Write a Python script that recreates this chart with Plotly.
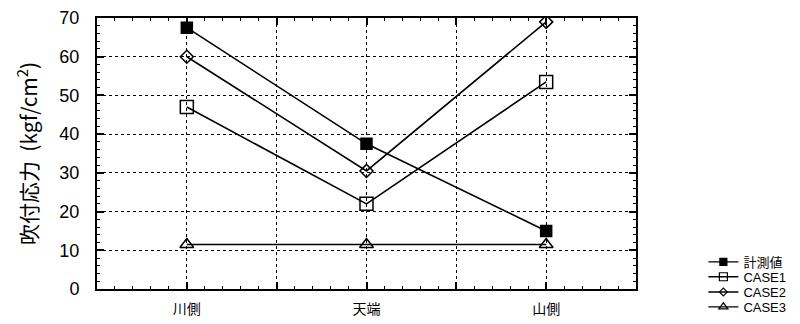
import plotly.graph_objects as go

# Measurement positions and shotcrete stresses (kgf/cm2)
positions = ["川側", "天端", "山側"]
measured = [67.5, 37.5, 15.0]
case1 = [47.0, 22.0, 53.5]
case2 = [60.0, 30.5, 69.0]
case3 = [11.5, 11.5, 11.5]

# name, values, symbol, plot marker size, legend marker size
series = [
    ("計測値", measured, "square", 11, 7),
    ("CASE1", case1, "square-open", 13, 8),
    ("CASE2", case2, "diamond-open", 10, 6),
    ("CASE3", case3, "triangle-up-open", 12, 8),
]

xpos = list(range(len(positions)))

# one small legend box per series so the entries sit close together
legend_ids = ["legend", "legend2", "legend3", "legend4"]
legend_y = [0.10, 0.045, -0.011, -0.066]

fig = go.Figure()
for (name, vals, sym, size, lsize), lid in zip(series, legend_ids):
    fig.add_trace(go.Scatter(
        x=xpos, y=vals, name=name, mode="lines+markers", showlegend=False,
        line=dict(color="black", width=1.6),
        marker=dict(symbol=sym, size=size, color="black",
                    line=dict(color="black", width=1.5)),
    ))
    # legend-only entry with a smaller symbol
    fig.add_trace(go.Scatter(
        x=[None], y=[None], name=name, mode="lines+markers", legend=lid,
        line=dict(color="black", width=1.4),
        marker=dict(symbol=sym, size=lsize, color="black",
                    line=dict(color="black", width=1.2)),
    ))

# extra axis carrying the dotted gridlines between the positions
fig.add_trace(go.Scatter(x=[0.5, 1.5], y=[None, None], xaxis="x2",
                         showlegend=False, hoverinfo="skip"))

legend_style = dict(x=1.125, xanchor="left", yanchor="middle",
                    font=dict(size=13, family="Liberation Sans, Noto Sans CJK JP"),
                    bgcolor="rgba(0,0,0,0)", borderwidth=0)
legends = {lid: dict(y=ly, **legend_style) for lid, ly in zip(legend_ids, legend_y)}

fig.update_layout(
    width=800, height=324,
    margin=dict(l=97, r=164, t=18, b=35, autoexpand=False),
    paper_bgcolor="white", plot_bgcolor="white",
    font=dict(family="Liberation Sans Narrow, Liberation Sans, Arial", color="black"),
    showlegend=True,
    **legends,
    xaxis=dict(
        range=[-0.5, 2.5], tickmode="array", tickvals=xpos, ticktext=positions,
        ticks="inside", ticklen=7, tickwidth=1.5, tickcolor="black",
        showline=True, linecolor="black", linewidth=2, mirror="ticks",
        showgrid=True, gridcolor="black", griddash="dot", gridwidth=1,
        zeroline=False, ticklabelstandoff=6,
        tickfont=dict(size=14, family="Noto Sans CJK JP"),
        minor=dict(dtick=0.1, tick0=0, ticks="inside", ticklen=3,
                   tickcolor="black", tickwidth=1, showgrid=False),
    ),
    xaxis2=dict(
        range=[-0.5, 2.5], overlaying="x", side="bottom", anchor="y",
        tickmode="array", tickvals=[0.5, 1.5], showticklabels=False,
        ticks="inside", ticklen=7, tickwidth=1.5, tickcolor="black",
        showline=False, mirror="ticks",
        showgrid=True, gridcolor="black", griddash="dot", gridwidth=1,
        zeroline=False,
    ),
    yaxis=dict(
        range=[0, 70], dtick=10, tick0=0,
        ticks="inside", ticklen=7, tickwidth=1.5, tickcolor="black",
        showline=True, linecolor="black", linewidth=2, mirror="ticks",
        showgrid=True, gridcolor="black", griddash="dot", gridwidth=1,
        zeroline=False, ticklabelstandoff=12,
        tickfont=dict(size=18),
        minor=dict(dtick=2, ticks="inside", ticklen=3,
                   tickcolor="black", tickwidth=1, showgrid=False),
        title=dict(text="吹付応力  (kgf/cm<sup>2</sup>)",
                   font=dict(size=21, family="Noto Sans CJK JP"), standoff=16),
    ),
)

fig.write_html("out.html")
